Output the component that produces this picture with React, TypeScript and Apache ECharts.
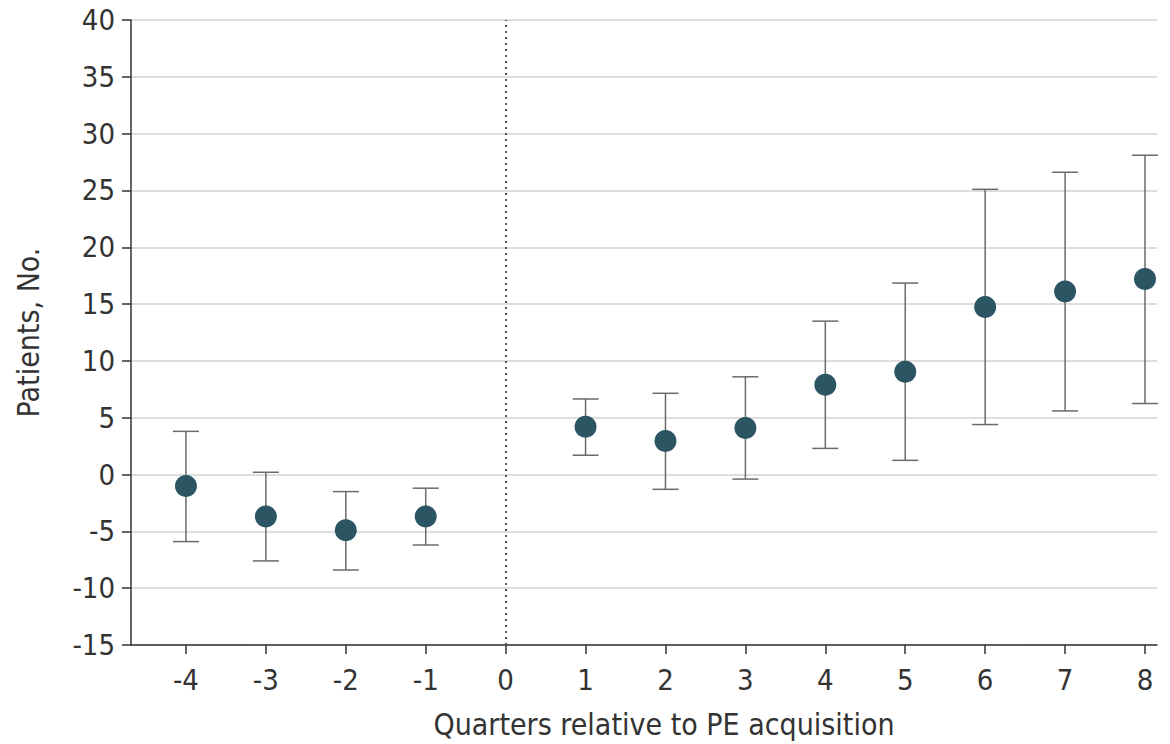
import React, { useEffect, useRef } from "react";
import * as echarts from "echarts";

const quarters = [-4, -3, -2, -1, 1, 2, 3, 4, 5, 6, 7, 8];
const estimates = [-1.0, -3.7, -4.9, -3.7, 4.2, 2.95, 4.1, 7.9, 9.05, 14.75, 16.1, 17.2];
const lowerCI = [-5.9, -7.6, -8.4, -6.2, 1.7, -1.3, -0.4, 2.3, 1.25, 4.4, 5.6, 6.25];
const upperCI = [3.8, 0.2, -1.5, -1.2, 6.65, 7.15, 8.6, 13.5, 16.85, 25.1, 26.6, 28.1];
const xTicks = [-4, -3, -2, -1, 0, 1, 2, 3, 4, 5, 6, 7, 8];
const yTicks = { min: -15, max: 40, interval: 5 };

const FONT = "'DejaVu Sans Condensed', 'DejaVu Sans', sans-serif";

export default function App() {
  const ref = useRef<HTMLDivElement>(null);
  useEffect(() => {
    if (!ref.current) return;
    const chart = echarts.init(ref.current, null, { renderer: "svg" });
    const errData = quarters.map((q, i) => [q, lowerCI[i], upperCI[i]]);
    const ptData = quarters.map((q, i) => [q, estimates[i]]);
    chart.setOption({
      animation: false,
      backgroundColor: "#ffffff",
      grid: { left: 131, right: 13, top: 20, bottom: 99, containLabel: false },
      xAxis: {
        type: "value",
        min: -4.6875,
        max: 8.15,
        name: "Quarters relative to PE acquisition",
        nameLocation: "middle",
        nameGap: 64,
        nameTextStyle: { fontFamily: FONT, fontSize: 30, color: "#333", padding: [0, 0, 0, 40] },
        axisLine: { show: true, onZero: false, lineStyle: { color: "#333", width: 1.5 } },
        axisTick: { show: true, length: 9, customValues: xTicks, lineStyle: { color: "#333", width: 1.5 } },
        axisLabel: {
          customValues: xTicks,
          margin: 20,
          fontFamily: FONT,
          fontSize: 29,
          color: "#333",
        },
        splitLine: { show: false },
      },
      yAxis: {
        type: "value",
        min: yTicks.min,
        max: yTicks.max,
        interval: yTicks.interval,
        name: "Patients, No.",
        nameLocation: "middle",
        nameGap: 88,
        nameTextStyle: { fontFamily: FONT, fontSize: 30, color: "#333" },
        axisLine: { show: true, onZero: false, lineStyle: { color: "#333", width: 1.5 } },
        axisTick: { show: true, length: 9, lineStyle: { color: "#333", width: 1.5 } },
        axisLabel: { margin: 16, fontFamily: FONT, fontSize: 29, color: "#333" },
        splitLine: { show: true, lineStyle: { color: "#dedede", width: 2 } },
      },
      series: [
        {
          type: "custom",
          data: errData,
          z: 2,
          renderItem: (params: any, api: any) => {
            const x = api.value(0);
            const lo = api.coord([x, api.value(1)]);
            const hi = api.coord([x, api.value(2)]);
            const hw = 13;
            const style = { stroke: "#6b6b6b", lineWidth: 1.5 };
            return {
              type: "group",
              children: [
                { type: "line", shape: { x1: lo[0], y1: lo[1], x2: hi[0], y2: hi[1] }, style },
                { type: "line", shape: { x1: lo[0] - hw, y1: lo[1], x2: lo[0] + hw, y2: lo[1] }, style },
                { type: "line", shape: { x1: hi[0] - hw, y1: hi[1], x2: hi[0] + hw, y2: hi[1] }, style },
              ],
            };
          },
        },
        {
          type: "scatter",
          data: ptData,
          symbol: "circle",
          symbolSize: 22,
          z: 3,
          itemStyle: { color: "#2c5564", opacity: 1 },
          markLine: {
            silent: true,
            symbol: "none",
            label: { show: false },
            lineStyle: { type: [2, 4], color: "#555", width: 2 },
            data: [{ xAxis: 0 }],
          },
        },
      ],
    });
    return () => chart.dispose();
  }, []);
  return (
    <div
      ref={ref}
      style={{ position: "absolute", left: 0, top: 0, width: 1170, height: 744 }}
    />
  );
}
